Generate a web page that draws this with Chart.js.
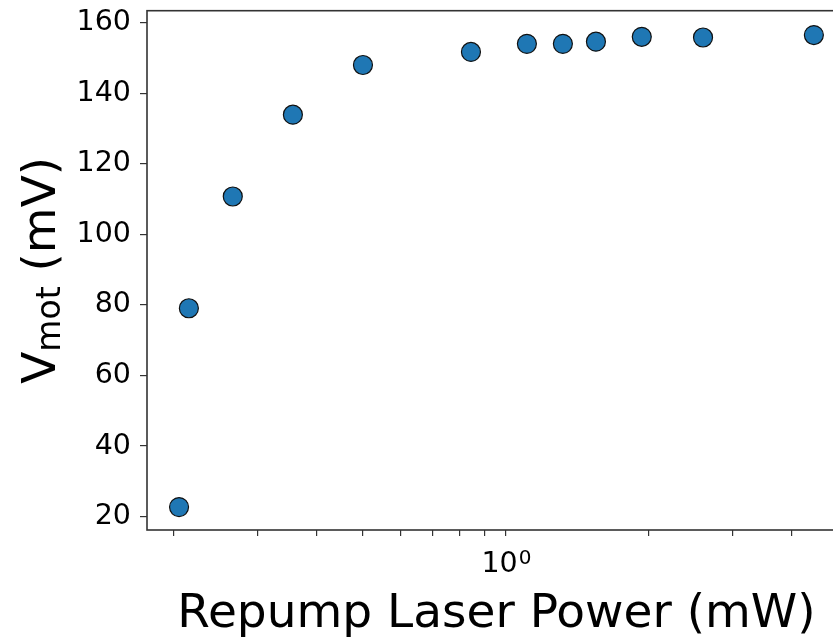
<!DOCTYPE html>
<html>
<head>
<meta charset="utf-8">
<script src="https://cdn.jsdelivr.net/npm/chart.js@4/dist/chart.umd.min.js"></script>
<style>
    html, body { margin: 0; padding: 0; background: #fff; overflow: hidden; }
    #wrap { width: 860px; height: 641px; }
</style>
</head>
<body>
<div id="wrap"><canvas id="chart" width="860" height="641"></canvas></div>
<script>
// repump power (mW) and MOT signal (mV)
const power = [0.205, 0.215, 0.266, 0.356, 0.500, 0.844, 1.107, 1.318, 1.547, 1.932, 2.60, 4.45];
const vmot = [22.7, 79.1, 110.8, 134.0, 148.1, 151.8, 154.1, 154.1, 154.7, 156.1, 155.9, 156.6];

const xTicks = [0.2, 0.3, 0.4, 0.5, 0.6, 0.7, 0.8, 0.9, 1, 2, 3, 4, 5];
const xLabelled = [{ value: 1, base: "10", exp: "0" }];
const yTicks = [20, 40, 60, 80, 100, 120, 140, 160];

const xTitle = "Repump Laser Power (mW)";
const yTitle = [
    { text: "V", size: 47, drop: 0 },
    { text: "mot", size: 33, drop: 5 },
    { text: " (mV)", size: 47, drop: 0 }
];

const FONT = '"DejaVu Sans", sans-serif';

// frame box, the 10^0 tick label and both axis titles (superscript / subscript)
const titlesPlugin = {
    id: "titles",
    afterDraw(chart) {
        const ctx = chart.ctx;
        const a = chart.chartArea;
        ctx.save();
        ctx.strokeStyle = "#333";
        ctx.lineWidth = 1.6;
        ctx.strokeRect(a.left, a.top, a.right - a.left, a.bottom - a.top);

        ctx.fillStyle = "#000";
        ctx.textBaseline = "alphabetic";
        ctx.textAlign = "left";
        xLabelled.forEach(t => {
            const px = chart.scales.x.getPixelForValue(t.value);
            ctx.font = `28.5px ${FONT}`;
            const wb = ctx.measureText(t.base).width;
            ctx.font = `20px ${FONT}`;
            const we = ctx.measureText(t.exp).width;
            const x0 = px - (wb + we) / 2;
            ctx.font = `28.5px ${FONT}`;
            ctx.fillText(t.base, x0, 572);
            ctx.font = `20px ${FONT}`;
            ctx.fillText(t.exp, x0 + wb + 1, 564);
        });

        ctx.textAlign = "center";
        ctx.font = `47px ${FONT}`;
        ctx.fillText(xTitle, (a.left + a.right) / 2, 627);

        ctx.textAlign = "left";
        ctx.translate(55, (a.top + a.bottom) / 2);
        ctx.rotate(-Math.PI / 2);
        let total = 0;
        yTitle.forEach(p => {
            ctx.font = `${p.size}px ${FONT}`;
            total += ctx.measureText(p.text).width;
        });
        let x = -total / 2;
        yTitle.forEach(p => {
            ctx.font = `${p.size}px ${FONT}`;
            ctx.fillText(p.text, x, p.drop);
            x += ctx.measureText(p.text).width;
        });
        ctx.restore();
    }
};

new Chart(document.getElementById("chart"), {
    type: "scatter",
    data: {
        datasets: [{
            data: power.map((p, i) => ({ x: p, y: vmot[i] })),
            backgroundColor: "#1f77b4",
            borderColor: "#111",
            borderWidth: 1.2,
            pointRadius: 9.5,
            pointHoverRadius: 9.5
        }]
    },
    options: {
        responsive: false,
        animation: false,
        events: [],
        layout: { padding: { top: 10, right: 14, left: 0, bottom: 0 } },
        plugins: {
            legend: { display: false },
            tooltip: { enabled: false }
        },
        scales: {
            x: {
                type: "logarithmic",
                min: 0.1755,
                max: 5.2,
                afterBuildTicks: s => { s.ticks = xTicks.map(v => ({ value: v })); },
                afterFit: s => { s.height = 111; s.paddingLeft = 0; s.paddingRight = 0; },
                grid: { drawOnChartArea: false, drawTicks: true, tickLength: 6, color: "#333", lineWidth: 1.2 },
                border: { display: false },
                ticks: {
                    autoSkip: false,
                    maxRotation: 0,
                    padding: 9,
                    color: "#000",
                    font: { family: FONT, size: 28.5 },
                    callback: () => ""
                }
            },
            y: {
                min: 16.2,
                max: 163.5,
                afterBuildTicks: s => { s.ticks = yTicks.map(v => ({ value: v })); },
                afterFit: s => { s.width = 147; s.paddingTop = 0; s.paddingBottom = 0; },
                grid: { drawOnChartArea: false, drawTicks: true, tickLength: 7, color: "#333", lineWidth: 1.2 },
                border: { display: false },
                ticks: {
                    padding: 9,
                    color: "#000",
                    font: { family: FONT, size: 28.5 },
                    callback: v => String(v)
                }
            }
        }
    },
    plugins: [titlesPlugin]
});
</script>
</body>
</html>
